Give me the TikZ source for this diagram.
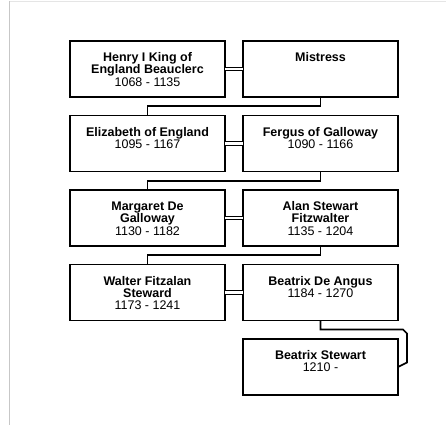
\documentclass[tikz,border=0pt]{standalone}
\usepackage{fontspec}
\setmainfont{Liberation Sans}
\usetikzlibrary{positioning}
\tikzstyle{person} = [rectangle, draw=black, line width=1.8pt, inner sep=0pt, outer sep=0pt, font=\fontsize{12.5}{12.4}\selectfont]
\tikzstyle{wed} = [double, double distance=2.2pt, line width=1.1pt]
\tikzstyle{kid} = [line width=1.6pt]
\newcommand{\who}[2]{\parbox[c][56pt][t]{155pt}{\centering\rule{0pt}{20.5pt}{\bfseries #1}\\#2}}

\begin{document}
\begin{tikzpicture}[x=1pt, y=-1pt]
	\useasboundingbox (0,0) rectangle (446,425);
	\draw[black!10, line width=0.8pt] (9.5,1) -- (446,1);
	\draw[black!22, line width=0.8pt] (9.5,1) -- (9.5,425);

	\node [person] (henry) at (147.5,69) {\who{Henry I King of\\England Beauclerc}{1068 - 1135}};
	\node [person, right=18pt of henry] (mistress) {\who{Mistress}{}};
	\node [person, below=18.5pt of henry] (elizabeth) {\who{Elizabeth of England}{1095 - 1167}};
	\node [person, right=18pt of elizabeth] (fergus) {\who{Fergus of Galloway}{1090 - 1166}};
	\node [person, below=18.5pt of elizabeth] (margaret) {\who{Margaret De\\Galloway}{1130 - 1182}};
	\node [person, right=18pt of margaret] (alan) {\who{Alan Stewart\\Fitzwalter}{1135 - 1204}};
	\node [person, below=18.5pt of margaret] (walter) {\who{Walter Fitzalan\\Steward}{1173 - 1241}};
	\node [person, right=18pt of walter] (angus) {\who{Beatrix De Angus}{1184 - 1270}};
	\node [person, below=18.5pt of angus] (stewart) {\who{Beatrix Stewart}{1210 -}};

	\draw[wed] (henry.east) -- (mistress.west);
	\draw[wed] (elizabeth.east) -- (fergus.west);
	\draw[wed] (margaret.east) -- (alan.west);
	\draw[wed] (walter.east) -- (angus.west);

	\draw[kid] (mistress.south) -- ++(0,9.25) -| (elizabeth.north);
	\draw[kid] (fergus.south) -- ++(0,9.25) -| (margaret.north);
	\draw[kid] (alan.south) -- ++(0,9.25) -| (walter.north);
	\draw[kid] (angus.south) -- ++(0,9) -- ++(82.5,0) -- ++(4,4) -- ++(0,29) -- (stewart.east);
\end{tikzpicture}
\end{document}
